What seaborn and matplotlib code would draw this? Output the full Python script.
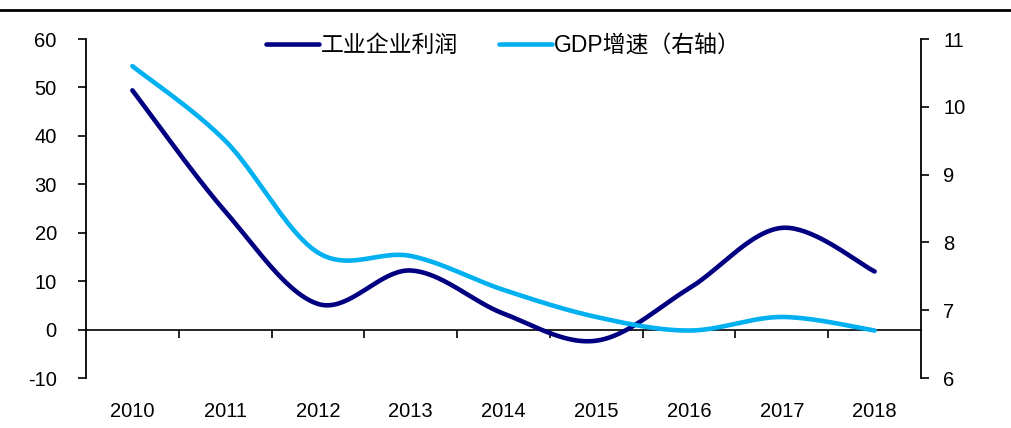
import numpy as np
import pandas as pd
import matplotlib
matplotlib.use("Agg")
import matplotlib.pyplot as plt
from matplotlib.lines import Line2D
import seaborn as sns

years = ["2010", "2011", "2012", "2013", "2014", "2015", "2016", "2017", "2018"]
profit = [49.4, 24.4, 5.3, 12.2, 3.3, -2.3, 8.5, 21.0, 12.0]
gdp = [10.6, 9.5, 7.85, 7.8, 7.3, 6.9, 6.7, 6.9, 6.7]
profit_label = "工业企业利润"
gdp_label = "GDP增速（右轴）"
left_ticks = [-10, 0, 10, 20, 30, 40, 50, 60]
right_ticks = [6, 7, 8, 9, 10, 11]

NAVY = "#000080"
CYAN = "#00B0F0"

sns.set_style("white")
plt.rcParams["font.family"] = ["Liberation Sans", "Noto Sans CJK SC", "DejaVu Sans"]
plt.rcParams["text.color"] = "black"
plt.rcParams["xtick.color"] = "black"
plt.rcParams["ytick.color"] = "black"
plt.rcParams["axes.labelcolor"] = "black"


def smooth(xs, ys, n=40):
    """Excel-like smoothed line: cubic Bezier through the points."""
    P = np.column_stack([xs, ys]).astype(float)
    m = len(P)
    out = []
    for i in range(m - 1):
        p0 = P[i]
        p3 = P[i + 1]
        pm = P[i - 1] if i > 0 else P[i]
        pp = P[i + 2] if i + 2 < m else P[i + 1]
        c1 = p0 + (p3 - pm) / 6.0
        c2 = p3 - (pp - p0) / 6.0
        t = np.linspace(0, 1, n, endpoint=(i == m - 2))[:, None]
        seg = ((1 - t) ** 3) * p0 + 3 * ((1 - t) ** 2) * t * c1 + 3 * (1 - t) * t ** 2 * c2 + t ** 3 * p3
        out.append(seg)
    out = np.vstack(out)
    return out[:, 0], out[:, 1]


x = np.arange(len(years))
FS = 14.5

fig = plt.figure(figsize=(10.11, 4.28), dpi=100)
ax = fig.add_axes([86 / 1011, 50 / 428, 835 / 1011, 339 / 428])
ax2 = ax.twinx()

sx, sy = smooth(x, profit)
sns.lineplot(x=sx, y=sy, ax=ax, color=NAVY, linewidth=3.3, sort=False, estimator=None, label=profit_label, legend=False)
gx, gy = smooth(x, gdp)
sns.lineplot(x=gx, y=gy, ax=ax2, color=CYAN, linewidth=3.3, sort=False, estimator=None, label=gdp_label, legend=False)

ax.set_xlim(-0.5, len(years) - 0.5)
ax.set_ylim(-10, 60)
ax2.set_ylim(6, 11)
ax.set_yticks(left_ticks)
ax2.set_yticks(right_ticks)
ax.set_yticklabels([str(v) for v in left_ticks], fontsize=FS, color="black")
ax2.set_yticklabels([str(v) for v in right_ticks], fontsize=FS, color="black")

ax.set_xticks(x)
ax.set_xticklabels(years, fontsize=FS, color="black")
ax.tick_params(axis="x", length=0, pad=17)
ax.tick_params(axis="y", direction="out", length=6, width=1.2, color="black", pad=15, left=True)
ax2.tick_params(axis="y", direction="out", length=6, width=1.2, color="black", pad=10, right=True)

for a in (ax, ax2):
    for s in a.spines.values():
        s.set_visible(False)
ax.spines["left"].set_visible(True)
ax.spines["left"].set_color("black")
ax.spines["left"].set_linewidth(1.3)
ax2.spines["right"].set_visible(True)
ax2.spines["right"].set_color("black")
ax2.spines["right"].set_linewidth(1.3)
ax.set_xlabel("")
ax.set_ylabel("")
ax2.set_ylabel("")
ax.grid(False)
ax2.grid(False)

# zero line with boundary ticks
zero_frac = (0 - (-10)) / 70.0
sec = ax.secondary_xaxis(zero_frac)
sec.set_xticks(np.arange(len(years) - 1) + 0.5)
sec.set_xticklabels([])
sec.tick_params(axis="x", direction="out", length=6, width=1.2, color="black")
sec.spines["bottom"].set_linewidth(1.2)
sec.spines["bottom"].set_color("black")

# legend
h1, l1 = ax.get_legend_handles_labels()
h2, l2 = ax2.get_legend_handles_labels()
leg = ax2.legend(h1 + h2, l1 + l2, loc="center", bbox_to_anchor=(0.5, 0.98), ncol=2,
                 frameon=False, fontsize=16.5, handlelength=2.3, handletextpad=0.1,
                 columnspacing=1.8, borderaxespad=0, labelcolor="black")

# top rule
fig.add_artist(Line2D([0, 1], [1 - 9.5 / 428, 1 - 9.5 / 428], transform=fig.transFigure,
                      color="black", linewidth=2))

fig.savefig("out.png", dpi=100)
